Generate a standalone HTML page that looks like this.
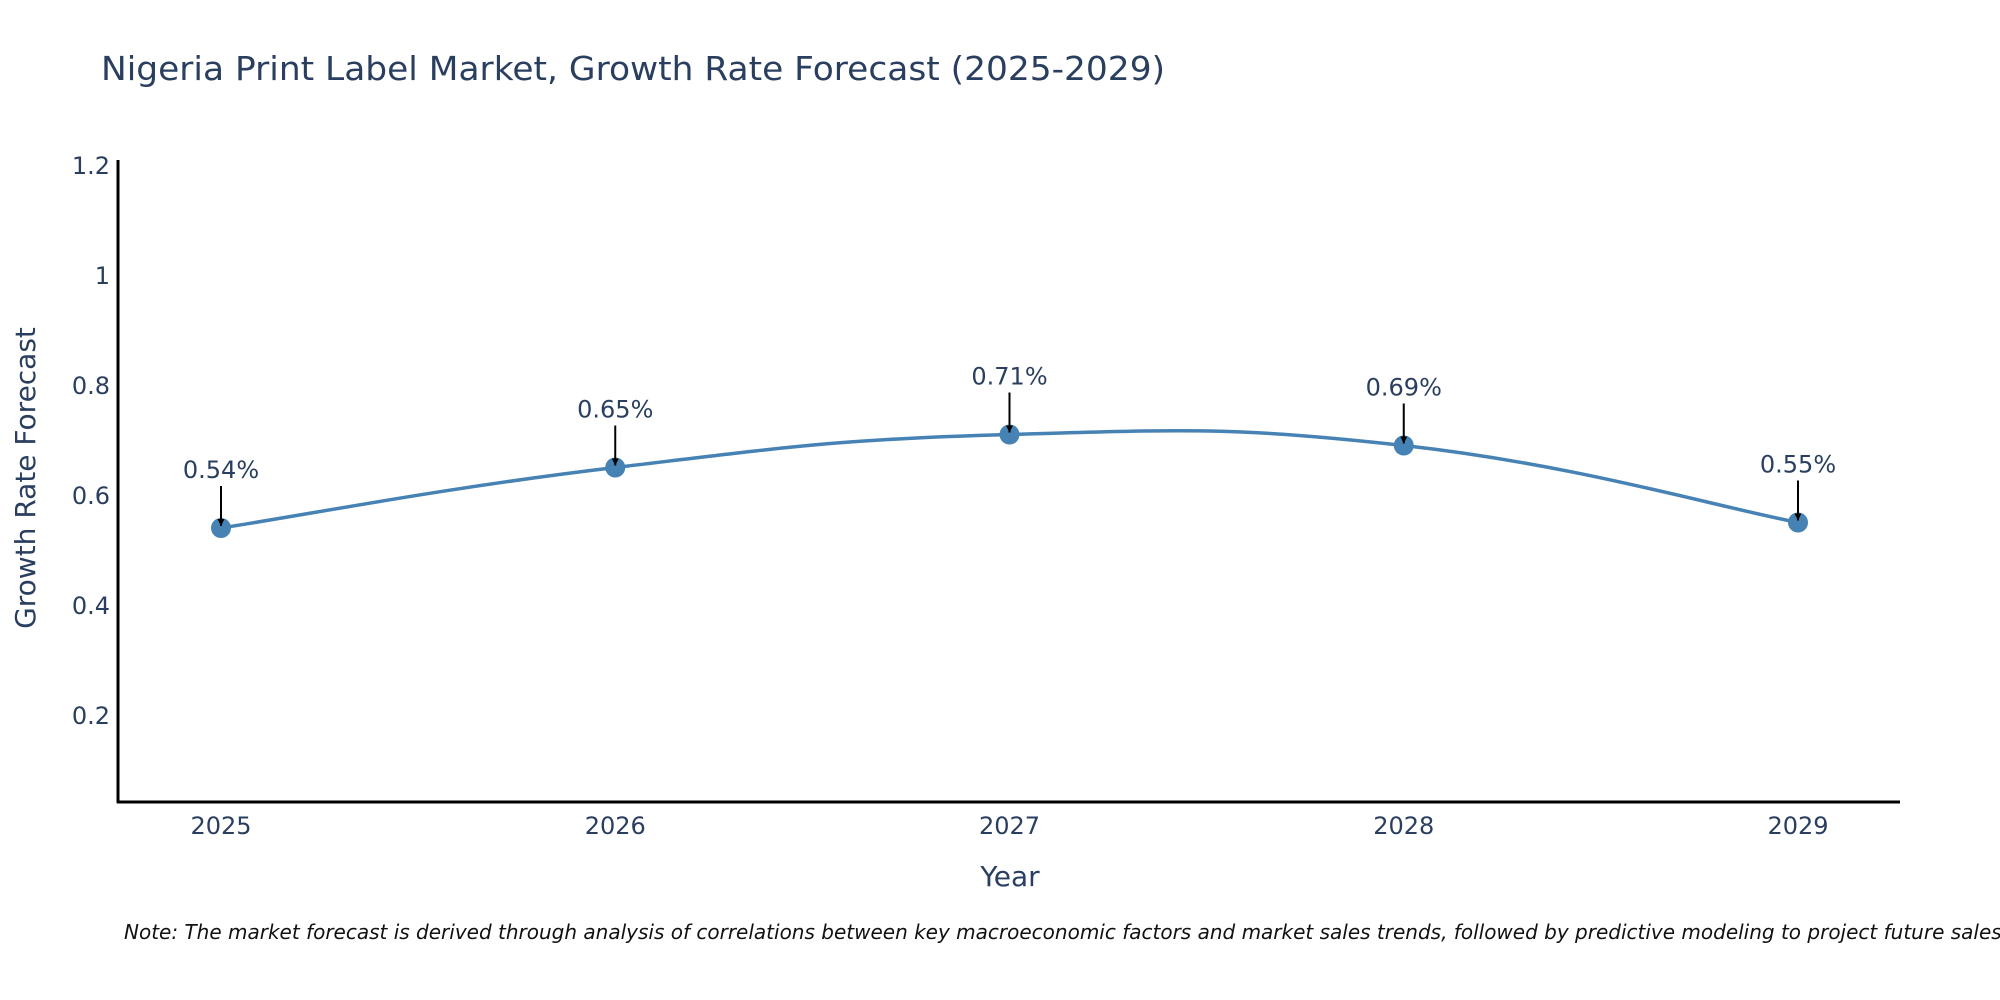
<!DOCTYPE html>
<html><head><meta charset="utf-8"><style>
html,body{margin:0;padding:0;background:#fff;}
svg{display:block;font-family:"DejaVu Sans","Liberation Sans",sans-serif;}
</style></head><body>
<svg id="chart" width="2000" height="1000" viewBox="0 0 2000 1000">
<defs><marker id="ah" viewBox="0 0 10 10" refX="10" refY="5" markerWidth="7" markerHeight="7" markerUnits="userSpaceOnUse" orient="auto"><path d="M0,0 L10,5 L0,10 z" fill="#000"/></marker></defs>
<text x="101" y="80" font-size="33" fill="#2a3f5f" textLength="1064" lengthAdjust="spacingAndGlyphs">Nigeria Print Label Market, Growth Rate Forecast (2025-2029)</text>
<g id="yticks"></g>
<g id="xticks"></g>
<line x1="118" y1="160" x2="118" y2="803" stroke="#000" stroke-width="3"/>
<line x1="117" y1="802" x2="1900" y2="802" stroke="#000" stroke-width="3"/>
<text transform="translate(35,478) rotate(-90)" text-anchor="middle" font-size="28" fill="#2a3f5f">Growth Rate Forecast</text>
<text x="1010" y="886" text-anchor="middle" font-size="28" fill="#2a3f5f">Year</text>
<g id="series"></g>
<g id="annots"></g>
<text x="124" y="939" font-size="20" font-style="italic" fill="#111">Note: The market forecast is derived through analysis of correlations between key macroeconomic factors and market sales trends, followed by predictive modeling to project future sales.</text>
</svg>
<script>
const years = [2025, 2026, 2027, 2028, 2029];
const values = [0.54, 0.65, 0.71, 0.69, 0.55];
const valueLabels = ["0.54%", "0.65%", "0.71%", "0.69%", "0.55%"];
const yTicks = [0.2, 0.4, 0.6, 0.8, 1, 1.2];
const yTickLabels = ["0.2", "0.4", "0.6", "0.8", "1", "1.2"];

const NS = "http://www.w3.org/2000/svg";
const xScale = v => 221 + (v - 2025) * 394.25;
const yScale = v => 825 - v * 550;
function mk(tag, attrs, parent) {
  const e = document.createElementNS(NS, tag);
  for (const k in attrs) e.setAttribute(k, attrs[k]);
  parent.appendChild(e);
  return e;
}
const yt = document.getElementById('yticks');
yTicks.forEach((t, i) => {
  const e = mk('text', {x: 110, y: yScale(t) + 9, 'text-anchor': 'end', 'font-size': 24, fill: '#2a3f5f'}, yt);
  
  
  e.textContent = yTickLabels[i];
});
const xt = document.getElementById('xticks');
years.forEach(y => {
  const e = mk('text', {x: xScale(y), y: 834, 'text-anchor': 'middle', 'font-size': 24, fill: '#2a3f5f'}, xt);
  
  
  e.textContent = String(y);
});
const pts = years.map((y, i) => [xScale(y), yScale(values[i])]);
let d = 'M' + pts[0][0] + ',' + pts[0][1];
const k = 0.22;
for (let i = 0; i < pts.length - 1; i++) {
  const p0 = pts[Math.max(0, i - 1)], p1 = pts[i], p2 = pts[i + 1], p3 = pts[Math.min(pts.length - 1, i + 2)];
  const c1 = [p1[0] + (p2[0] - p0[0]) * k, p1[1] + (p2[1] - p0[1]) * k];
  const c2 = [p2[0] - (p3[0] - p1[0]) * k, p2[1] - (p3[1] - p1[1]) * k];
  d += ' C' + c1.join(',') + ' ' + c2.join(',') + ' ' + p2.join(',');
}
const s = document.getElementById('series');
const line = mk('path', {d: d, fill: 'none', stroke: '#4682b4', 'stroke-width': 3.5}, s);


pts.forEach(p => {
  const c = mk('circle', {cx: p[0], cy: p[1], r: 10, fill: '#4682b4'}, s);
  
  
});
const an = document.getElementById('annots');
pts.forEach((p, i) => {
  const l = mk('line', {x1: p[0], y1: p[1] - 42, x2: p[0], y2: p[1] - 2, stroke: '#000', 'stroke-width': 2, 'marker-end': 'url(#ah)'}, an);
  
  
  const t = mk('text', {x: p[0], y: p[1] - 50, 'text-anchor': 'middle', 'font-size': 24, fill: '#2a3f5f'}, an);
  
  
  t.textContent = valueLabels[i];
});
</script>
</body></html>
